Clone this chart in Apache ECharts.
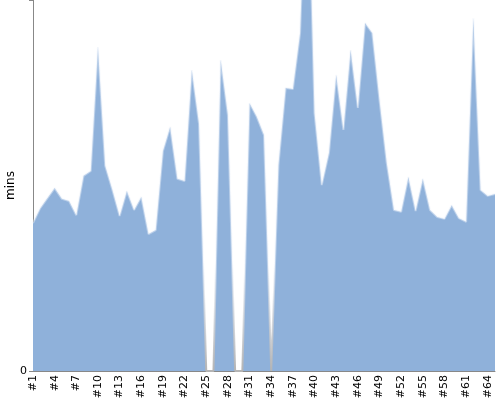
<!DOCTYPE html>
<html>
<head>
<meta charset="utf-8">
<script src="https://cdn.jsdelivr.net/npm/echarts@6/dist/echarts.min.js"></script>
<style>
  html, body { margin: 0; padding: 0; background: #fff; }
  #chart { width: 500px; height: 400px; }
</style>
</head>
<body>
<div id="chart"></div>
<script>
var categories = [
  '#1', '#2', '#3', '#4', '#5', '#6', '#7', '#8', '#9', '#10',
  '#11', '#12', '#13', '#14', '#15', '#16', '#17', '#18', '#19', '#20',
  '#21', '#22', '#23', '#24', '#25', '#26', '#27', '#28', '#29', '#30',
  '#31', '#32', '#33', '#34', '#35', '#36', '#37', '#38', '#39', '#40',
  '#41', '#42', '#43', '#44', '#45', '#46', '#47', '#48', '#49', '#50',
  '#51', '#52', '#53', '#54', '#55', '#56', '#57', '#58', '#59', '#60',
  '#61', '#62', '#63', '#64', '#65'
]

// minutes per run
var mins = [
  39.9, 43.9, 46.6, 49.3, 46.4, 45.8, 42.0, 52.6, 53.9, 87.3,
  55.3, 48.8, 41.8, 48.5, 43.4, 46.9, 36.9, 38.0, 59.3, 65.8,
  51.8, 51.2, 81.1, 66.6, 0, 0, 83.8, 69.0, 0, 0,
  72.2, 68.5, 63.6, 0, 55.5, 76.3, 76.0, 91.1, 145.8, 69.5,
  50.1, 58.8, 79.8, 65.0, 86.5, 70.9, 93.8, 91.1, 73.0, 56.1,
  43.4, 42.9, 52.3, 43.1, 51.8, 43.4, 41.5, 41.0, 44.7, 41.2,
  40.2, 95.1, 48.8, 47.2, 47.7
]

var yTicks = [0]

var chart = echarts.init(document.getElementById('chart'))
var option = {
  animation: false,
  textStyle: { fontFamily: 'DejaVu Sans' },
  grid: {
    left: 33, right: 5, top: 0, bottom: 29,
    containLabel: false,
    outerBoundsMode: 'none'
  },
  xAxis: {
    type: 'category',
    data: categories,
    boundaryGap: false,
    axisLine: { lineStyle: { color: '#888' } },
    axisTick: { show: false },
    axisLabel: {
      interval: 2,
      rotate: 90,
      margin: 4,
      color: '#000',
      fontSize: 11
    }
  },
  yAxis: {
    type: 'value',
    min: 0,
    max: 100,
    interval: 100,
    name: 'mins',
    nameLocation: 'middle',
    nameGap: 16,
    nameMoveOverlap: false,
    nameTextStyle: { color: '#000', fontSize: 12 },
    axisLine: { show: true, lineStyle: { color: '#888' } },
    axisTick: { show: true, length: 4, lineStyle: { color: '#888' } },
    splitLine: { show: false },
    axisLabel: {
      color: '#000',
      fontSize: 11,
      margin: 6,
      formatter: function (v) { return yTicks.indexOf(v) >= 0 ? String(v) : '' }
    }
  },
  series: [
    {
      name: 'mins',
      type: 'line',
      data: mins,
      symbol: 'none',
      clip: true,
      lineStyle: {
        width: 2,
        color: {
          type: 'linear', global: true,
          x: 0, y: 260, x2: 0, y2: 371,
          colorStops: [
            { offset: 0, color: 'rgba(235,241,250,0.45)' },
            { offset: 1, color: '#b4b4b4' }
          ]
        }
      },
      areaStyle: { color: '#8fb1da', opacity: 1 }
    }
  ]
}
chart.setOption(option)
</script>
</body>
</html>
